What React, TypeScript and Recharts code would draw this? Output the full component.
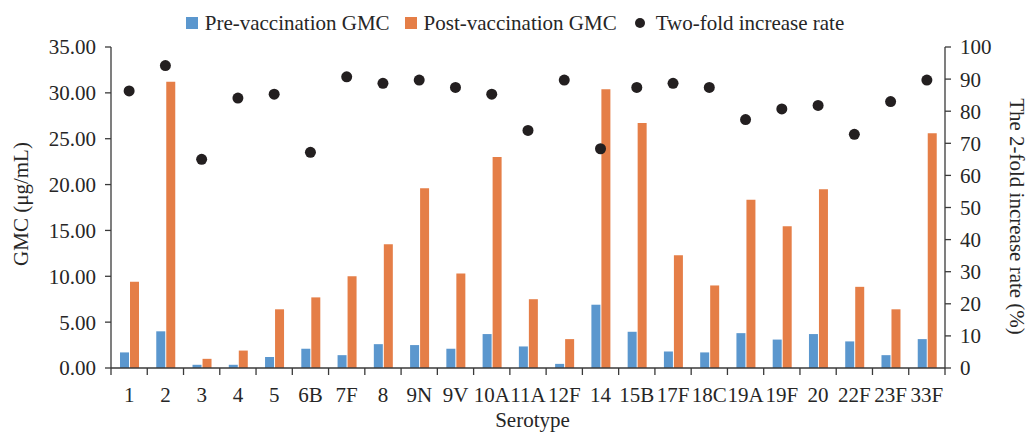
import React from 'react';
import { ComposedChart, Bar, Scatter, XAxis, YAxis, Legend } from 'recharts';

const serotypes = ['1', '2', '3', '4', '5', '6B', '7F', '8', '9N', '9V', '10A', '11A', '12F', '14', '15B', '17F', '18C', '19A', '19F', '20', '22F', '23F', '33F'];
const preGmc = [1.7, 4.0, 0.35, 0.35, 1.2, 2.1, 1.4, 2.6, 2.5, 2.1, 3.7, 2.35, 0.45, 6.9, 3.95, 1.8, 1.7, 3.8, 3.1, 3.7, 2.9, 1.4, 3.15];
const postGmc = [9.4, 31.2, 1.0, 1.9, 6.4, 7.7, 10.0, 13.5, 19.6, 10.3, 23.0, 7.5, 3.15, 30.4, 26.7, 12.3, 9.0, 18.35, 15.45, 19.5, 8.85, 6.4, 25.6];
const twoFoldRate = [86.3, 94.2, 65.0, 84.1, 85.3, 67.2, 90.7, 88.7, 89.7, 87.4, 85.3, 74.0, 89.7, 68.3, 87.4, 88.7, 87.4, 77.4, 80.7, 81.8, 72.8, 83.0, 89.7];
const gmcTicks = [0, 5, 10, 15, 20, 25, 30, 35];
const rateTicks = [0, 10, 20, 30, 40, 50, 60, 70, 80, 90, 100];
const seriesNames = ['Pre-vaccination GMC', 'Post-vaccination GMC', 'Two-fold increase rate'];

const data = serotypes.map((s, i) => ({
  serotype: s,
  pre: preGmc[i],
  post: postGmc[i],
  rate: twoFoldRate[i],
}));

const FONT = "'Liberation Serif', 'Times New Roman', serif";
const TEXT = '#262626';
const AXIS = '#3a3a3a';
const BLUE = '#5B97CE';
const ORANGE = '#E57E47';
const DOT = '#231F20';
const X_TICK_SIZE = 7;
const X_TICK_MARGIN = 13;

const tickStyle = { fill: TEXT, fontSize: 21, fontFamily: FONT };

// category label in the middle, tick marks on the band edges
const SerotypeTick = (props: any) => {
  const { x, y, payload } = props;
  const half = payload.offset ?? 834 / 23 / 2;
  const axisY = y - X_TICK_SIZE - X_TICK_MARGIN;
  const isLast = payload.value === serotypes[serotypes.length - 1];
  return (
    <g>
      <line x1={x - half} y1={axisY} x2={x - half} y2={axisY + X_TICK_SIZE} stroke={AXIS} strokeWidth={1.3} />
      {isLast && <line x1={x + half} y1={axisY} x2={x + half} y2={axisY + X_TICK_SIZE} stroke={AXIS} strokeWidth={1.3} />}
      <text x={x} y={y} dy="0.69em" textAnchor="middle" fill={TEXT} fontSize={21} fontFamily={FONT}>
        {payload.value}
      </text>
    </g>
  );
};

const AxisTitle = (props: any) => {
  const { viewBox, value, side } = props;
  const { x, y, width, height } = viewBox;
  if (side === 'bottom') {
    return (
      <text x={x + width / 2 + 4.5} y={y + 58.5} textAnchor="middle" fill={TEXT} fontSize={21} fontFamily={FONT}>
        {value}
      </text>
    );
  }
  if (side === 'left') {
    const bx = x + 28;
    const cy = y + height / 2 - 3.5;
    return (
      <text x={bx} y={cy} transform={`rotate(-90 ${bx} ${cy})`} textAnchor="middle" fill={TEXT} fontSize={21} fontFamily={FONT}>
        {value}
      </text>
    );
  }
  const bx = x + 65;
  const cy = y + height / 2 + 9;
  return (
    <text x={bx} y={cy} transform={`rotate(90 ${bx} ${cy})`} textAnchor="middle" fill={TEXT} fontSize={21} fontFamily={FONT}>
      {value}
    </text>
  );
};

const renderLegend = (props: any) => {
  const payload = [...(props.payload || [])].sort(
    (a: any, b: any) => seriesNames.indexOf(a.value) - seriesNames.indexOf(b.value)
  );
  return (
    <div style={{ display: 'flex', justifyContent: 'center', alignItems: 'center', height: 26, fontFamily: FONT, fontSize: 21, color: TEXT, whiteSpace: 'nowrap' }}>
      {payload.map((item: any, i: number) => {
        const circle = item.type === 'circle';
        return (
          <div key={i} style={{ display: 'flex', alignItems: 'center', marginLeft: i === 0 ? 0 : circle ? 18 : 15 }}>
            {circle ? (
              <span style={{ display: 'inline-block', width: 10, height: 10, borderRadius: '50%', background: item.color }} />
            ) : (
              <span style={{ display: 'inline-block', width: 12, height: 12, background: item.color }} />
            )}
            <span style={{ marginLeft: circle ? 11 : 7 }}>{item.value}</span>
          </div>
        );
      })}
    </div>
  );
};

export default function App() {
  return (
    <div style={{ position: 'absolute', left: 0, top: 0, width: 1030, height: 432, background: '#fff' }}>
      <ComposedChart
        width={1030}
        height={432}
        data={data}
        margin={{ top: 21, right: 0, left: 0, bottom: 0 }}
        barGap={1}
        barCategoryGap="24%"
      >
        <Legend verticalAlign="top" align="center" content={renderLegend} wrapperStyle={{ top: 10 }} />
        <XAxis
          dataKey="serotype"
          height={64}
          interval={0}
          tickLine={false}
          tickSize={X_TICK_SIZE}
          tickMargin={X_TICK_MARGIN}
          tick={<SerotypeTick />}
          axisLine={{ stroke: AXIS, strokeWidth: 1.3 }}
          label={<AxisTitle value="Serotype" side="bottom" />}
        />
        <YAxis
          yAxisId="gmc"
          orientation="left"
          width={111}
          domain={[0, 35]}
          ticks={gmcTicks}
          interval={0}
          tickFormatter={(v: number) => v.toFixed(2)}
          tick={tickStyle}
          tickSize={6}
          tickMargin={9}
          tickLine={{ stroke: AXIS, strokeWidth: 1.3 }}
          axisLine={{ stroke: AXIS, strokeWidth: 1.3 }}
          label={<AxisTitle value="GMC (μg/mL)" side="left" />}
        />
        <YAxis
          yAxisId="rate"
          orientation="right"
          width={85}
          domain={[0, 100]}
          ticks={rateTicks}
          interval={0}
          tick={tickStyle}
          tickSize={6}
          tickMargin={9}
          tickLine={{ stroke: AXIS, strokeWidth: 1.3 }}
          axisLine={{ stroke: AXIS, strokeWidth: 1.3 }}
          label={<AxisTitle value="The 2-fold increase rate (%)" side="right" />}
        />
        <Bar yAxisId="gmc" dataKey="pre" name={seriesNames[0]} fill={BLUE} barSize={9} isAnimationActive={false} />
        <Bar yAxisId="gmc" dataKey="post" name={seriesNames[1]} fill={ORANGE} barSize={9} isAnimationActive={false} />
        <Scatter
          yAxisId="rate"
          dataKey="rate"
          name={seriesNames[2]}
          fill={DOT}
          legendType="circle"
          isAnimationActive={false}
          shape={(p: any) => <circle cx={p.cx} cy={p.cy} r={5.5} fill={DOT} />}
        />
      </ComposedChart>
    </div>
  );
}
